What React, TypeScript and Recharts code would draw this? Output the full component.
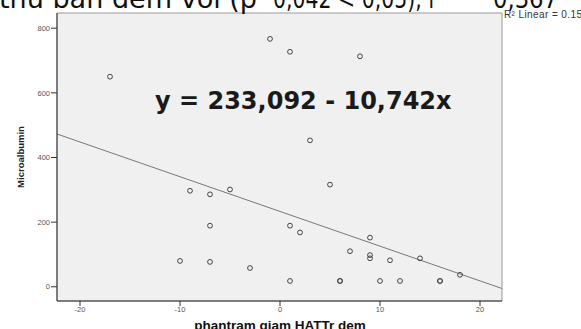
import React from "react";
import { ScatterChart, Scatter, XAxis, YAxis, ReferenceArea, ReferenceLine } from "recharts";

// percent drop in night diastolic BP vs microalbumin
const pctDrop = [-17, -1, 1, 8, 3, -9, -7, -5, 5, -7, 1, 2, 9, 7, 9, 9, 11, 14, -10, -7, -3, 18, 1, 6, 6, 10, 12, 16, 16];
const microalb = [650, 767, 727, 713, 453, 297, 286, 301, 316, 189, 189, 168, 152, 110, 98, 88, 82, 88, 80, 77, 58, 37, 18, 18, 18, 18, 18, 18, 18];

const xTicks = [-20, -10, 0, 10, 20];
const yTicks = [0, 200, 400, 600, 800];
const xDomain = [-22.3, 22.2];
const yDomain = [-44, 847];

const intercept = 233.092;
const slope = -10.742;

const points = pctDrop.map((x, i) => ({ x, y: microalb[i] }));
const fitStart = { x: xDomain[0], y: intercept + slope * xDomain[0] };
const fitEnd = { x: xDomain[1], y: intercept + slope * xDomain[1] };

const tickStyle = { fontSize: 7.5, fill: "#555", fontFamily: "Liberation Sans, Arial, sans-serif" };

const Dot = (p: any) => <circle cx={p.cx} cy={p.cy} r={2.4} fill="none" stroke="#444" strokeWidth={1} />;

export default function App() {
  return (
    <div style={{ position: "absolute", left: 0, top: 0, width: 581, height: 329, overflow: "hidden", background: "#fff" }}>
      <ScatterChart width={581} height={329} margin={{ top: 13, right: 79, bottom: 0, left: 0 }}>
        <XAxis
          type="number"
          dataKey="x"
          domain={xDomain}
          ticks={xTicks}
          allowDataOverflow
          height={28}
          tickSize={5}
          tickMargin={1}
          tick={tickStyle}
          stroke="#333"
        />
        <YAxis
          type="number"
          dataKey="y"
          domain={yDomain}
          ticks={yTicks}
          allowDataOverflow
          width={57}
          tickSize={6}
          tickMargin={1}
          tick={tickStyle}
          stroke="#333"
        />
        <ReferenceArea x1={xDomain[0]} x2={xDomain[1]} y1={yDomain[0]} y2={yDomain[1]} fill="#f0f0f0" fillOpacity={1} stroke="#999" />
        <ReferenceLine segment={[fitStart, fitEnd]} stroke="#777" strokeWidth={1} />
        <Scatter data={points} shape={Dot} isAnimationActive={false} />
      </ScatterChart>
      <svg width={581} height={329} style={{ position: "absolute", left: 0, top: 0, pointerEvents: "none" }}>
        {/* title line, mostly cut off at the top edge */}
        <g fontFamily="DejaVu Sans, Verdana, sans-serif" fontSize={26} fill="#111">
          <text x={-1} y={8} textLength={258} lengthAdjust="spacingAndGlyphs">thứ ban đêm với (p</text>
          <text x={258} y={3}>=</text>
          <text x={273} y={8} textLength={164} lengthAdjust="spacingAndGlyphs">0,042 &lt; 0,05); r</text>
          <text x={468} y={3}>=</text>
          <text x={493} y={8} textLength={65} lengthAdjust="spacingAndGlyphs">0,367</text>
        </g>
        <text x={504} y={18} fontFamily="Liberation Sans, Arial, sans-serif" fontSize={10} letterSpacing={0.4} fill="#333">
          R² Linear = 0.159
        </text>
        <text x={155} y={109} fontFamily="DejaVu Sans, Verdana, sans-serif" fontWeight="bold" fontSize={24} fill="#1a1a1a">
          y = 233,092 - 10,742x
        </text>
        <text
          transform="translate(24,157) rotate(-90)"
          textAnchor="middle"
          fontFamily="Liberation Sans, Arial, sans-serif"
          fontWeight="bold"
          fontSize={9.5}
          fill="#222"
        >
          Microalbumin
        </text>
        <text x={280} y={329.5} textAnchor="middle" fontFamily="Liberation Sans, Arial, sans-serif" fontWeight="bold" fontSize={13.5} fill="#111">
          phantram giam HATTr dem
        </text>
      </svg>
    </div>
  );
}
